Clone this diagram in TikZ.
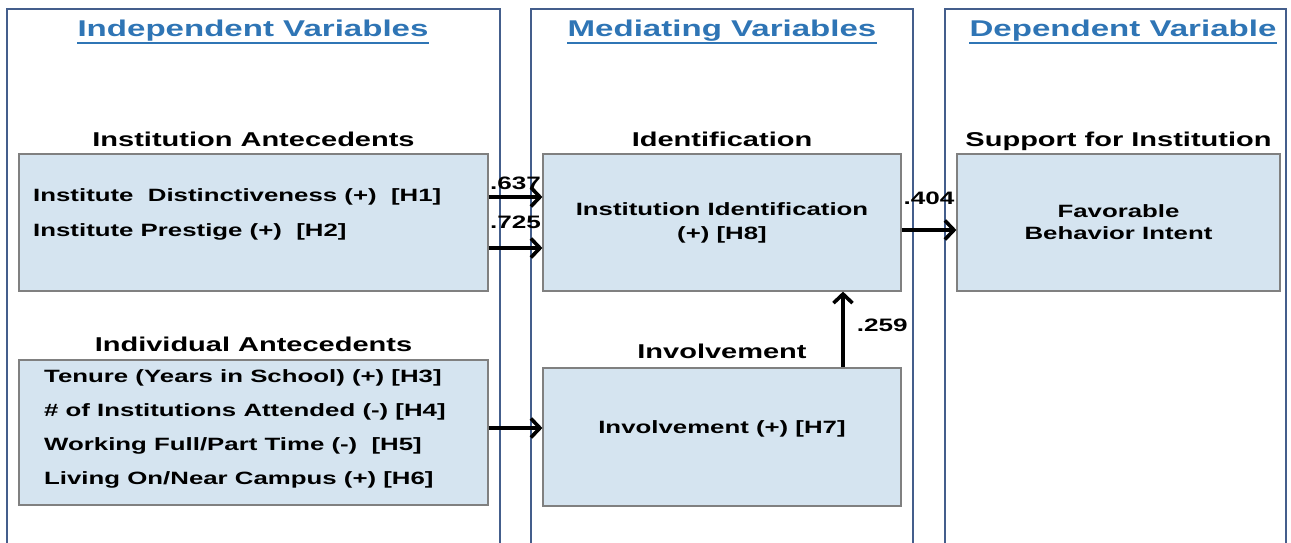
\documentclass[tikz,border=0pt]{standalone}
\usepackage{fontspec}
\newfontfamily\diagfont{Liberation Sans}[FakeStretch=1.45]
\usetikzlibrary{arrows.meta,positioning}
\definecolor{panelblue}{HTML}{445E8C}
\definecolor{titleblue}{HTML}{2F75B5}
\definecolor{boxfill}{HTML}{D5E4F0}
\definecolor{boxline}{HTML}{808080}

\begin{document}
\begin{tikzpicture}[
        x=1pt, y=-1pt,
        every node/.style={font=\diagfont\bfseries},
        panel/.style={draw=panelblue, line width=2.5pt},
        heading/.style={text=titleblue, inner sep=0pt,
            font=\diagfont\bfseries\fontsize{22.8}{26}\selectfont},
        group/.style={inner sep=0pt, text depth=0pt,
            font=\diagfont\bfseries\fontsize{20}{24}\selectfont},
        varbox/.style={draw=boxline, fill=boxfill, line width=1.2pt, inner sep=0pt,
            font=\diagfont\bfseries\fontsize{17.8}{24}\selectfont},
        vartext/.style={inner sep=0pt, anchor=west, align=left},
        coef/.style={inner sep=0pt, text depth=0pt,
            font=\diagfont\bfseries\fontsize{18}{20}\selectfont},
        link/.style={line width=3.6pt, -{Straight Barb[length=9pt,width=19pt]}}
    ]
    \useasboundingbox (0,0) rectangle (1291,542);

    % three columns
    \draw[panel] (7,548) |- (500,9) -- (500,548);
    \draw[panel] (531,548) |- (913,9) -- (913,548);
    \draw[panel] (945,548) |- (1286,9) -- (1286,548);

    \node[heading] (indep) at (253,31) {Independent Variables};
    \node[heading] (medi) at (722,31) {Mediating Variables};
    \node[heading] (depend) at (1123,31) {Dependent Variable};
    \foreach \t in {indep,medi,depend}
        \draw[titleblue, line width=1.8pt] ([yshift=-1.5pt]\t.south west) -- ([yshift=-1.5pt]\t.south east);

    % boxes
    \node[varbox, minimum width=469pt, minimum height=137pt] (instbox) at (253.5,222.5) {};
    \node[varbox, minimum width=358pt, minimum height=137pt] (identbox) at (722,222.5)
        [align=center, font=\diagfont\bfseries\fontsize{17.8}{24}\selectfont]
        {Institution Identification\\(+) [H8]};
    \node[varbox, minimum width=323pt, minimum height=137pt] (favbox) at (1118.5,222.5)
        [align=center, font=\diagfont\bfseries\fontsize{17.8}{22}\selectfont]
        {Favorable\\Behavior Intent};
    \node[varbox, minimum width=469pt, minimum height=145pt] (indivbox) at (253.5,432.5) {};
    \node[varbox, minimum width=358pt, minimum height=138pt, text depth=20pt] (involvbox) at (722,437)
        {Involvement (+) [H7]};

    \node[vartext, font=\diagfont\bfseries\fontsize{17.8}{35}\selectfont] (insttext) at (33,214)
        {Institute~~Distinctiveness (+)~~[H1]\\Institute Prestige (+)~~[H2]};
    \node[vartext, font=\diagfont\bfseries\fontsize{17.8}{34}\selectfont] (indivtext) at (44,429)
        {Tenure (Years in School) (+) [H3]\\\# of Institutions Attended (-) [H4]\\
         Working Full/Part Time (-)~~[H5]\\Living On/Near Campus (+) [H6]};

    % group labels
    \node[group, above=7pt of instbox] {Institution Antecedents};
    \node[group, above=7pt of identbox] {Identification};
    \node[group, above=7pt of favbox] {Support for Institution};
    \node[group, above=8pt of indivbox] {Individual Antecedents};
    \node[group, above=9pt of involvbox] {Involvement};

    % paths
    \draw[link] ([yshift=25.5pt]instbox.east) -- ([yshift=25.5pt]identbox.west)
        node[coef, midway, above=6pt] {.637};
    \draw[link] ([yshift=-25.5pt]instbox.east) -- ([yshift=-25.5pt]identbox.west)
        node[coef, midway, above=18pt] {.725};
    \draw[link] ([yshift=-7.5pt]identbox.east) -- ([yshift=-7.5pt]favbox.west)
        node[coef, midway, above=24pt] {.404};
    \draw[link] ([yshift=4.5pt]indivbox.east) -- ([yshift=4.5pt]indivbox.east -| involvbox.west);
    \draw[link] ([xshift=121pt]involvbox.north) -- ([xshift=121pt]identbox.south)
        node[coef, pos=0.56, right=12pt] {.259};
\end{tikzpicture}
\end{document}
